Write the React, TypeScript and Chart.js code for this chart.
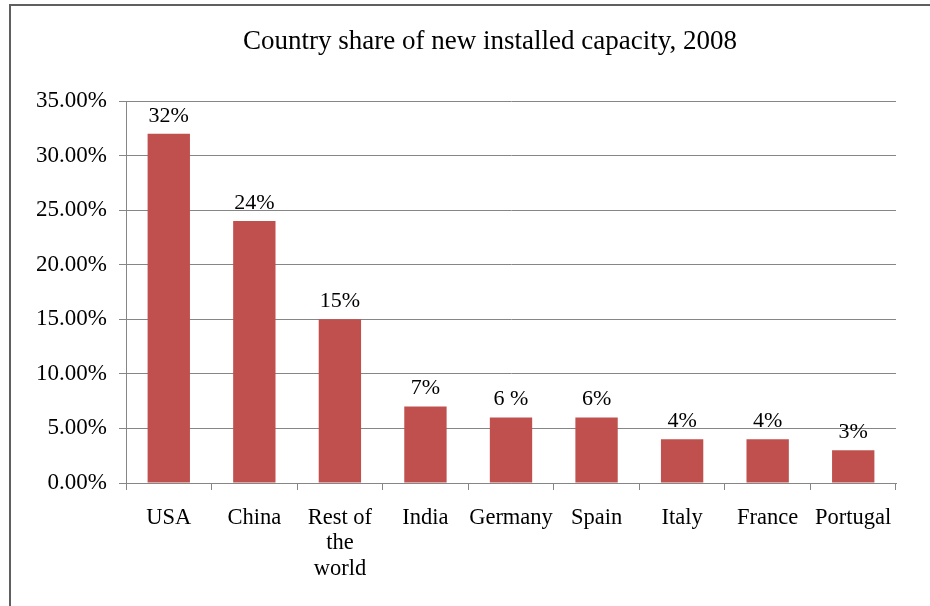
import React, { useEffect, useRef } from "react";
import { Chart, registerables } from "chart.js";

Chart.register(...registerables);

const TITLE = "Country share of new installed capacity, 2008";
const categories: (string | string[])[] = [
  "USA",
  "China",
  ["Rest of", "the", "world"],
  "India",
  "Germany",
  "Spain",
  "Italy",
  "France",
  "Portugal",
];
const shares = [32, 24, 15, 7, 6, 6, 4, 4, 3];
const shareLabels = ["32%", "24%", "15%", "7%", "6 %", "6%", "4%", "4%", "3%"];
const yMin = 0;
const yMax = 35;
const yStep = 5;

const FONT = "'Liberation Serif', 'Times New Roman', serif";
const BAR_COLOR = "#C0504D";
const GRID_COLOR = "#868686";

const dataLabelPlugin = {
  id: "dataLabels",
  afterDatasetsDraw(chart: any) {
    const ctx = chart.ctx;
    const meta = chart.getDatasetMeta(0);
    ctx.save();
    ctx.font = `22px ${FONT}`;
    ctx.fillStyle = "#000";
    ctx.textAlign = "center";
    ctx.textBaseline = "middle";
    meta.data.forEach((bar: any, i: number) => {
      ctx.fillText(shareLabels[i], bar.x, bar.y - 18);
    });
    ctx.restore();
  },
};

export default function App() {
  const canvasRef = useRef<HTMLCanvasElement | null>(null);

  useEffect(() => {
    const canvas = canvasRef.current;
    if (!canvas) return;
    const chart = new Chart(canvas, {
      type: "bar",
      data: {
        labels: categories,
        datasets: [
          {
            data: shares,
            backgroundColor: BAR_COLOR,
            borderWidth: 0,
            categoryPercentage: 1,
            barPercentage: 0.495,
          },
        ],
      },
      options: {
        animation: false,
        responsive: false,
        maintainAspectRatio: false,
        devicePixelRatio: 1,
        layout: { padding: 0 },
        plugins: {
          legend: { display: false },
          tooltip: { enabled: false },
          title: {
            display: true,
            text: TITLE,
            color: "#000",
            font: { family: FONT, size: 27, weight: "normal", lineHeight: 1.2 },
            padding: { top: 26, bottom: 42.6 },
          },
        },
        scales: {
          x: {
            offset: true,
            grid: {
              display: true,
              drawOnChartArea: false,
              drawTicks: true,
              offset: true,
              tickLength: 7,
              color: GRID_COLOR,
              lineWidth: 1,
            },
            border: { display: true, color: GRID_COLOR, width: 1 },
            ticks: {
              color: "#000",
              padding: 15,
              maxRotation: 0,
              autoSkip: false,
              font: { family: FONT, size: 22.5, lineHeight: 1.14 },
            },
            afterFit(scale: any) {
              scale.height = 123;
            },
          },
          y: {
            min: yMin,
            max: yMax,
            grid: {
              color: GRID_COLOR,
              lineWidth: 1,
              tickLength: 7,
              drawTicks: true,
            },
            border: { display: true, color: GRID_COLOR, width: 1 },
            ticks: {
              stepSize: yStep,
              color: "#000",
              padding: 12,
              font: { family: FONT, size: 23 },
              callback: (v: any) => `${Number(v).toFixed(2)}%`,
            },
            afterFit(scale: any) {
              scale.width = 126;
            },
          },
          yRightSpace: {
            type: "linear",
            position: "right",
            display: true,
            grid: { display: false, drawTicks: false },
            border: { display: false },
            ticks: { display: false },
            afterFit(scale: any) {
              scale.width = 84;
            },
          },
        },
      },
      plugins: [dataLabelPlugin],
    });
    return () => chart.destroy();
  }, []);

  return (
    <div
      style={{
        position: "fixed",
        left: 0,
        top: 0,
        width: 930,
        height: 606,
        overflow: "hidden",
        background: "#fff",
      }}
    >
      <div
        style={{
          position: "absolute",
          left: 9,
          top: 4,
          width: 1000,
          height: 700,
          border: "2px solid #5f5f5f",
          boxSizing: "border-box",
        }}
      />
      <canvas
        ref={canvasRef}
        width={980}
        height={606}
        style={{ position: "absolute", left: 0, top: 0, width: 980, height: 606 }}
      />
    </div>
  );
}
